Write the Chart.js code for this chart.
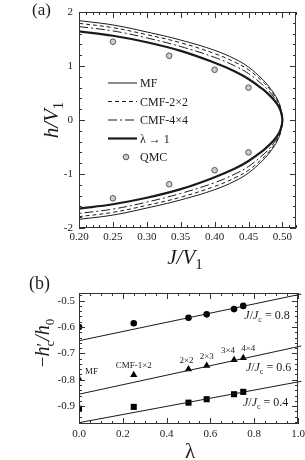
<!DOCTYPE html>
<html>
<head>
<meta charset="utf-8">
<script src="https://cdn.jsdelivr.net/npm/chart.js@4.4.1/dist/chart.umd.min.js"></script>
<style>
  html, body { margin: 0; padding: 0; background: #fff; }
  #wrap { position: relative; width: 305px; height: 460px; overflow: hidden; }
  canvas { position: absolute; left: 0; }
</style>
</head>
<body>
<div id="wrap">
  <canvas id="chartA" width="305" height="275" style="top:0"></canvas>
  <canvas id="chartB" width="305" height="185" style="top:275px"></canvas>
</div>
<script>
// === (a) phase boundary h/V1 vs J/V1 (upper branch, lower one is mirrored) ===
const jGrid  = [0.20, 0.25, 0.30, 0.35, 0.40, 0.43, 0.45, 0.47, 0.48, 0.487, 0.493, 0.497, 0.50];
const hMF    = [1.84, 1.76, 1.63, 1.48, 1.29, 1.13, 0.98, 0.76, 0.62, 0.50, 0.37, 0.24, 0];
const hCMF22 = [1.79, 1.71, 1.58, 1.43, 1.23, 1.07, 0.93, 0.72, 0.59, 0.47, 0.35, 0.23, 0];
const hCMF44 = [1.73, 1.65, 1.52, 1.36, 1.16, 1.00, 0.86, 0.66, 0.54, 0.43, 0.32, 0.21, 0];
const hLam1  = [1.64, 1.56, 1.44, 1.28, 1.06, 0.90, 0.76, 0.58, 0.47, 0.38, 0.28, 0.18, 0];
const qmcJ = [0.25, 0.333, 0.40, 0.45];
const qmcH = [1.45, 1.19, 0.93, 0.60];
const xTicksA = [0.20, 0.25, 0.30, 0.35, 0.40, 0.45, 0.50];
const yTicksA = [-2, -1, 0, 1, 2];

// === (b) -h'c/h0 vs lambda ===
const lambdaVals = [0, 0.25, 0.5, 0.583, 0.708, 0.75];
const clusterNames = ["MF", "CMF-1×2", "2×2", "2×3", "3×4", "4×4"];
const hc08 = [-0.600, -0.586, -0.565, -0.552, -0.532, -0.520];
const hc06 = [-0.797, -0.782, -0.760, -0.747, -0.725, -0.717];
const hc04 = [-0.910, -0.903, -0.887, -0.874, -0.855, -0.846];
const fitLambda = [0, 1.015];
const fit08 = [-0.652, -0.475];
const fit06 = [-0.855, -0.672];
const fit04 = [-0.963, -0.806];
const ratioLabels = ["0.8", "0.6", "0.4"];
const xTicksB = [0, 0.2, 0.4, 0.6, 0.8, 1.0];
const yTicksB = [-0.9, -0.8, -0.7, -0.6, -0.5];

const serif = "'Liberation Serif', 'Times New Roman', serif";
const ink = "#1a1a1a";

function boundary(h) {
  const up = jGrid.map((j, i) => ({ x: j, y: h[i] }));
  const down = jGrid.slice(0, -1).map((j, i) => ({ x: j, y: -h[i] })).reverse();
  return up.concat(down);
}
const pts = (xs, ys) => xs.map((v, i) => ({ x: v, y: ys[i] }));

// text made of pieces: [text, font, dy, noAdvance]
function drawParts(ctx, parts, x, y, align) {
  let w = 0;
  parts.forEach(p => { ctx.font = p[1]; if (!p[3]) w += ctx.measureText(p[0]).width; });
  let cx = align === "center" ? x - w / 2 : x;
  parts.forEach(p => {
    ctx.font = p[1];
    ctx.fillText(p[0], cx, y + (p[2] || 0));
    if (!p[3]) cx += ctx.measureText(p[0]).width;
  });
}
const it = s => `italic ${s}px ${serif}`;
const up = s => `${s}px ${serif}`;

// box with inward ticks on all four sides
const framePlugin = {
  id: "frame",
  afterDatasetsDraw(chart, args, o) {
    const { ctx, chartArea: a, scales: { x, y } } = chart;
    ctx.save();
    ctx.strokeStyle = "#333";
    ctx.lineWidth = 1;
    ctx.strokeRect(a.left + 0.5, a.top + 0.5, a.right - a.left - 1, a.bottom - a.top - 1);
    ctx.beginPath();
    const tick = (axis, step, len) => {
      const n0 = Math.ceil(axis.min / step - 1e-6), n1 = Math.floor(axis.max / step + 1e-6);
      for (let k = n0; k <= n1; k++) {
        const p = Math.round(axis.getPixelForValue(k * step)) + 0.5;
        if (axis === x) {
          ctx.moveTo(p, a.bottom); ctx.lineTo(p, a.bottom - len);
          ctx.moveTo(p, a.top); ctx.lineTo(p, a.top + len);
        } else {
          ctx.moveTo(a.left, p); ctx.lineTo(a.left + len, p);
          ctx.moveTo(a.right, p); ctx.lineTo(a.right - len, p);
        }
      }
    };
    tick(x, o.xMinor, 3); tick(x, o.xMajor, 6);
    tick(y, o.yMinor, 3); tick(y, o.yMajor, 6);
    ctx.stroke();
    ctx.restore();
  }
};

// labels, titles and legend of (a)
const decorA = {
  id: "decorA",
  afterDraw(chart) {
    const { ctx } = chart;
    ctx.save();
    ctx.fillStyle = ink;
    ctx.textAlign = "left";
    ctx.textBaseline = "alphabetic";
    ctx.font = up(17);
    ctx.fillText("(a)", 32, 15);
    drawParts(ctx, [["J/V", it(21)], ["1", up(15), 5]], 185, 264, "center");
    ctx.translate(58, 120);
    ctx.rotate(-Math.PI / 2);
    drawParts(ctx, [["h/V", it(21)], ["1", up(15), 5]], 0, 0, "center");
    ctx.restore();

    // legend
    ctx.save();
    ctx.fillStyle = ink;
    ctx.textBaseline = "middle";
    ctx.font = up(12);
    chart.data.datasets.forEach((ds, i) => {
      const yy = 83 + i * 18.5;
      if (ds.showLine) {
        ctx.strokeStyle = ds.borderColor;
        ctx.lineWidth = ds.borderWidth;
        ctx.setLineDash(ds.borderDash || []);
        ctx.beginPath();
        ctx.moveTo(108, yy); ctx.lineTo(137, yy);
        ctx.stroke();
        ctx.setLineDash([]);
      } else {
        ctx.beginPath();
        ctx.arc(126, yy, ds.pointRadius, 0, Math.PI * 2);
        ctx.fillStyle = ds.pointBackgroundColor; ctx.fill();
        ctx.strokeStyle = ds.pointBorderColor; ctx.lineWidth = 1; ctx.stroke();
        ctx.fillStyle = ink;
      }
      ctx.fillText(ds.label, 140, yy + 1);
    });
    ctx.restore();
  }
};

// labels, titles and annotations of (b)
const decorB = {
  id: "decorB",
  afterDraw(chart) {
    const { ctx, scales: { x, y } } = chart;
    ctx.save();
    ctx.fillStyle = ink;
    ctx.textAlign = "left";
    ctx.textBaseline = "alphabetic";
    ctx.font = up(18);
    ctx.fillText("(b)", 29, 14);
    ctx.font = up(21);
    ctx.textAlign = "center";
    ctx.fillText("λ", 190, 183);
    ctx.textAlign = "left";

    // cluster labels above the triangles
    const shift = [6, 0, -2, 0, -6, 5];
    const lift = [5, 7, 6, 7, 7, 7];
    ctx.font = up(9);
    clusterNames.forEach((t, i) => {
      const px = x.getPixelForValue(lambdaVals[i]);
      const py = y.getPixelForValue(hc06[i]);
      ctx.textAlign = i === 0 ? "left" : "center";
      ctx.fillText(t, px + shift[i], py - lift[i]);
    });
    ctx.textAlign = "left";

    // J/Jc labels under the right end of each line
    const fits = [fit08, fit06, fit04];
    const at = [0.755, 0.762, 0.749];
    const drop = [13, 13, 14];
    ratioLabels.forEach((r, i) => {
      const f = fits[i];
      const v = f[0] + (f[1] - f[0]) * at[i] / fitLambda[1];
      const px = x.getPixelForValue(at[i]);
      const py = y.getPixelForValue(v) + drop[i];
      drawParts(ctx, [["J", it(12)], ["/", up(12)], ["J", it(12)], ["c", up(8), 3], [" = " + r, up(12)]], px, py, "left");
    });

    ctx.translate(49, 68);
    ctx.rotate(-Math.PI / 2);
    drawParts(ctx, [["−", up(19)], ["h", it(20)], ["′", up(17), -1, true], ["c", up(13), 5], ["/", it(20)], ["h", it(20)], ["0", up(13), 5]], 0, 0, "center");
    ctx.restore();
  }
};

const tickFont = { family: serif, size: 11 };
function fixedAxis(size, isX, ticksArr) {
  return {
    afterBuildTicks: s => { s.ticks = ticksArr.map(v => ({ value: v })); },
    afterFit: s => {
      if (isX) s.height = size; else s.width = size;
      s.paddingLeft = 0; s.paddingRight = 0; s.paddingTop = 0; s.paddingBottom = 0;
    }
  };
}

new Chart(document.getElementById("chartA"), {
  type: "scatter",
  data: {
    datasets: [
      { label: "MF", data: boundary(hMF), showLine: true, borderColor: ink, borderWidth: 1, pointRadius: 0, tension: 0.4 },
      { label: "CMF-2×2", data: boundary(hCMF22), showLine: true, borderColor: ink, borderWidth: 1, borderDash: [4, 3], pointRadius: 0, tension: 0.4 },
      { label: "CMF-4×4", data: boundary(hCMF44), showLine: true, borderColor: ink, borderWidth: 1, borderDash: [9, 3, 2, 3], pointRadius: 0, tension: 0.4 },
      { label: "λ → 1", data: boundary(hLam1), showLine: true, borderColor: ink, borderWidth: 2.2, pointRadius: 0, tension: 0.4 },
      { label: "QMC", data: pts(qmcJ, qmcH).concat(pts(qmcJ, qmcH.map(v => -v))), showLine: false,
        pointRadius: 2.8, pointBackgroundColor: "#cfcfcf", pointBorderColor: "#555", pointBorderWidth: 1 }
    ]
  },
  options: {
    responsive: false,
    animation: false,
    layout: { padding: { top: 12, right: 9, left: 0, bottom: 0 } },
    plugins: {
      legend: { display: false },
      tooltip: { enabled: false },
      frame: { xMajor: 0.05, xMinor: 0.01, yMajor: 1, yMinor: 0.2 }
    },
    scales: {
      x: {
        type: "linear", min: 0.2, max: 0.52,
        grid: { display: false, drawTicks: false }, border: { display: false },
        ticks: { font: tickFont, color: ink, padding: 3, maxRotation: 0, callback: v => v.toFixed(2) },
        ...fixedAxis(47, true, xTicksA)
      },
      y: {
        type: "linear", min: -2, max: 2,
        grid: { display: false, drawTicks: false }, border: { display: false },
        ticks: { font: tickFont, color: ink, padding: 6, callback: v => String(v) },
        ...fixedAxis(79, false, yTicksA)
      }
    }
  },
  plugins: [framePlugin, decorA]
});

const lineStyle = { showLine: true, borderColor: ink, borderWidth: 1, pointRadius: 0, clip: { left: 0, top: 0, bottom: 0, right: 5 } };
const markStyle = { showLine: false, pointBackgroundColor: "#000", pointBorderColor: "#000", pointBorderWidth: 0 };

new Chart(document.getElementById("chartB"), {
  type: "scatter",
  data: {
    datasets: [
      { label: "fit 0.8", data: pts(fitLambda, fit08), ...lineStyle },
      { label: "fit 0.6", data: pts(fitLambda, fit06), ...lineStyle },
      { label: "fit 0.4", data: pts(fitLambda, fit04), ...lineStyle },
      { label: "J/Jc = 0.8", data: pts(lambdaVals, hc08), ...markStyle, pointStyle: "circle", pointRadius: 3.3 },
      { label: "J/Jc = 0.6", data: pts(lambdaVals, hc06), ...markStyle, pointStyle: "triangle", pointRadius: 4.2 },
      { label: "J/Jc = 0.4", data: pts(lambdaVals, hc04), ...markStyle, pointStyle: "rect", pointRadius: 4.3 }
    ]
  },
  options: {
    responsive: false,
    animation: false,
    layout: { padding: { top: 18, right: 7, left: 0, bottom: 0 } },
    plugins: {
      legend: { display: false },
      tooltip: { enabled: false },
      frame: { xMajor: 0.2, xMinor: 0.05, yMajor: 0.1, yMinor: 0.02 }
    },
    scales: {
      x: {
        type: "linear", min: 0, max: 1,
        grid: { display: false, drawTicks: false }, border: { display: false },
        ticks: { font: tickFont, color: ink, padding: 4, maxRotation: 0, callback: v => v.toFixed(1) },
        ...fixedAxis(36, true, xTicksB)
      },
      y: {
        type: "linear", min: -0.968, max: -0.471,
        grid: { display: false, drawTicks: false }, border: { display: false },
        ticks: { font: tickFont, color: ink, padding: 4, callback: v => v.toFixed(1) },
        ...fixedAxis(79, false, yTicksB)
      }
    }
  },
  plugins: [framePlugin, decorB]
});
</script>
</body>
</html>
